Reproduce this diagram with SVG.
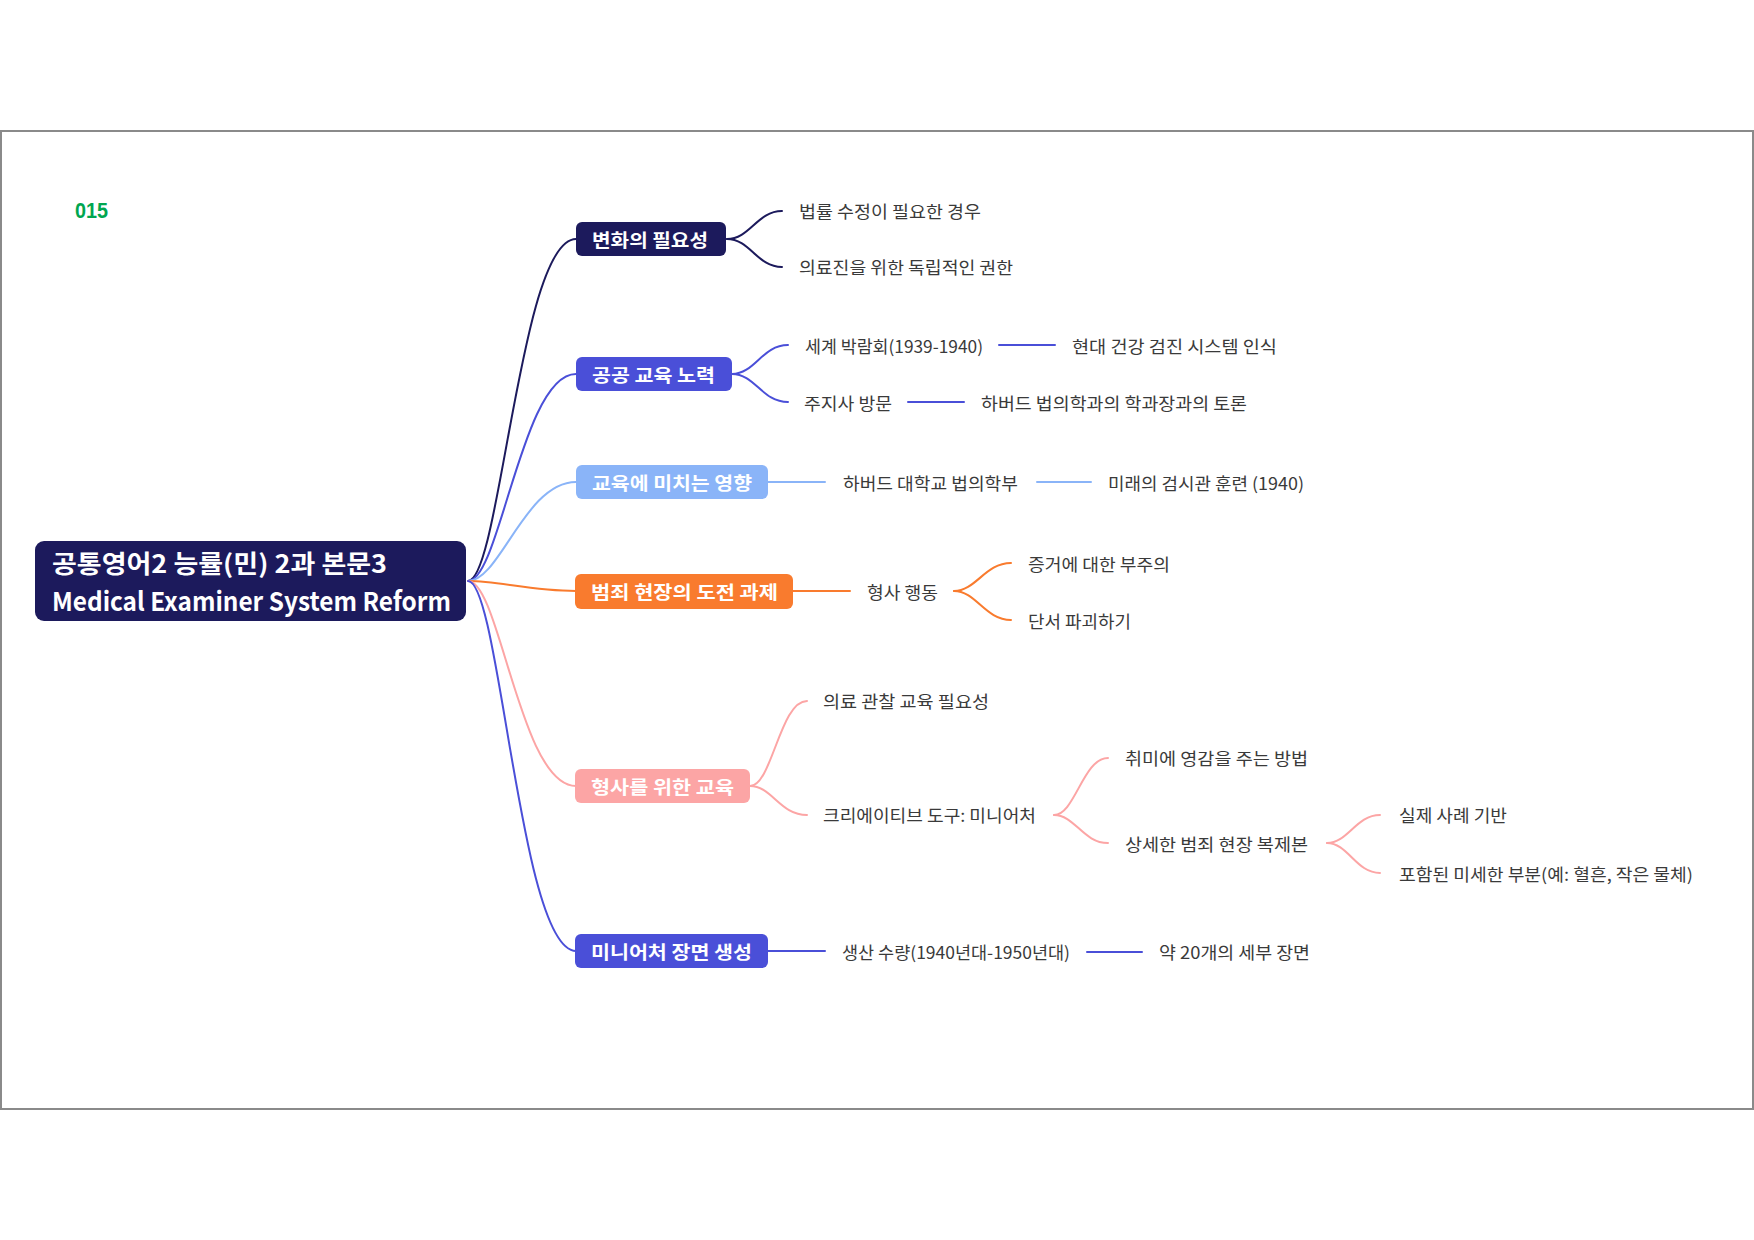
<svg xmlns="http://www.w3.org/2000/svg" width="1754" height="1240" viewBox="0 0 1754 1240">
<style>
.frame{fill:#ffffff;stroke:#8a8a8a;stroke-width:2}
.nt{font-family:"Noto Sans CJK KR","Noto Sans",sans-serif;font-weight:bold;font-size:18px;fill:#ffffff;dominant-baseline:central}
.rt{font-family:"Noto Sans CJK KR","Noto Sans",sans-serif;font-weight:bold;fill:#ffffff}
.lt{font-family:"Noto Sans CJK KR","Noto Sans",sans-serif;font-size:17px;fill:#3a3a3a;dominant-baseline:central}
.c{fill:none;stroke-width:2;stroke-linecap:round}
.navy{stroke:#1c1a5c}.blue{stroke:#4a4fd8}.lblue{stroke:#8ab4f8}.orange{stroke:#f97b2e}.pink{stroke:#fca5a5}
</style>
<rect x="0" y="0" width="1754" height="1240" fill="#ffffff"/>
<rect class="frame" x="1" y="131" width="1752" height="978"/>
<text x="75" y="218" font-family="Liberation Sans, Arial, sans-serif" font-weight="bold" font-size="22" fill="#00a650" textLength="33" lengthAdjust="spacingAndGlyphs">015</text>

<g id="connectors">
<path class="c navy" d="M468,581 C500,581 520,239 576,239"/>
<path class="c blue" d="M468,581 C500,581 522,374 576,374"/>
<path class="c lblue" d="M468,581 C500,581 525,482 576,482"/>
<path class="c orange" d="M468,581 C500,581 530,591 576,591"/>
<path class="c pink" d="M468,581 C500,581 520,786 576,786"/>
<path class="c blue" d="M468,581 C500,581 520,951 576,951"/>

<path class="c navy" d="M727,239 C750,239 757,211 782,211"/>
<path class="c navy" d="M727,239 C750,239 757,267 782,267"/>

<path class="c blue" d="M732,374 C755,374 762,345 788,345"/>
<path class="c blue" d="M732,374 C755,374 762,402 788,402"/>
<path class="c blue" d="M999,345 L1055,345"/>
<path class="c blue" d="M908,402 L964,402"/>

<path class="c lblue" d="M768,482 L825,482"/>
<path class="c lblue" d="M1037,482 L1091,482"/>

<path class="c orange" d="M793,591 L850,591"/>
<path class="c orange" d="M954,591 C976,591 985,563 1011,563"/>
<path class="c orange" d="M954,591 C976,591 985,620 1011,620"/>

<path class="c pink" d="M750,786 C772,786 780,701 807,701"/>
<path class="c pink" d="M750,786 C772,786 780,815 807,815"/>
<path class="c pink" d="M1054,815 C1075,815 1083,758 1108,758"/>
<path class="c pink" d="M1054,815 C1075,815 1083,843 1108,843"/>
<path class="c pink" d="M1327,843 C1348,843 1356,815 1380,815"/>
<path class="c pink" d="M1327,843 C1348,843 1356,873 1380,873"/>

<path class="c blue" d="M768,951 L825,951"/>
<path class="c blue" d="M1087,952 L1142,952"/>
</g>

<g id="root">
<rect x="35" y="541" width="431" height="80" rx="9" fill="#1c1a5c"/>
<text class="rt" x="52" y="573" font-size="25" textLength="335" lengthAdjust="spacingAndGlyphs">공통영어2 능률(민) 2과 본문3</text>
<text class="rt" x="52" y="611" font-size="26" textLength="399" lengthAdjust="spacingAndGlyphs">Medical Examiner System Reform</text>
</g>

<g id="n1">
<rect x="576" y="222" width="150" height="34" rx="6" fill="#1c1a5c"/>
<text class="nt" x="592" y="239" textLength="116" lengthAdjust="spacingAndGlyphs">변화의 필요성</text>
</g>
<g id="n1a"><text class="lt" x="799" y="210" textLength="182" lengthAdjust="spacingAndGlyphs">법률 수정이 필요한 경우</text></g>
<g id="n1b"><text class="lt" x="799" y="266" textLength="214" lengthAdjust="spacingAndGlyphs">의료진을 위한 독립적인 권한</text></g>

<g id="n2">
<rect x="576" y="357" width="156" height="34" rx="6" fill="#4a4fd8"/>
<text class="nt" x="592" y="374" textLength="123" lengthAdjust="spacingAndGlyphs">공공 교육 노력</text>
</g>
<g id="n2a"><text class="lt" x="805" y="345" textLength="178" lengthAdjust="spacingAndGlyphs">세계 박람회(1939-1940)</text></g>
<g id="n2a1"><text class="lt" x="1072" y="345" textLength="205" lengthAdjust="spacingAndGlyphs">현대 건강 검진 시스템 인식</text></g>
<g id="n2b"><text class="lt" x="804" y="402" textLength="88" lengthAdjust="spacingAndGlyphs">주지사 방문</text></g>
<g id="n2b1"><text class="lt" x="981" y="402" textLength="266" lengthAdjust="spacingAndGlyphs">하버드 법의학과의 학과장과의 토론</text></g>

<g id="n3">
<rect x="576" y="465" width="192" height="34" rx="6" fill="#8ab4f8"/>
<text class="nt" x="592" y="482" textLength="160" lengthAdjust="spacingAndGlyphs">교육에 미치는 영향</text>
</g>
<g id="n3a"><text class="lt" x="843" y="482" textLength="175" lengthAdjust="spacingAndGlyphs">하버드 대학교 법의학부</text></g>
<g id="n3a1"><text class="lt" x="1108" y="482" textLength="196" lengthAdjust="spacingAndGlyphs">미래의 검시관 훈련 (1940)</text></g>

<g id="n4">
<rect x="575" y="574" width="218" height="35" rx="6" fill="#f97b2e"/>
<text class="nt" x="591" y="591" textLength="187" lengthAdjust="spacingAndGlyphs">범죄 현장의 도전 과제</text>
</g>
<g id="n4a"><text class="lt" x="867" y="591" textLength="71" lengthAdjust="spacingAndGlyphs">형사 행동</text></g>
<g id="n4a1"><text class="lt" x="1028" y="563" textLength="142" lengthAdjust="spacingAndGlyphs">증거에 대한 부주의</text></g>
<g id="n4a2"><text class="lt" x="1028" y="620" textLength="103" lengthAdjust="spacingAndGlyphs">단서 파괴하기</text></g>

<g id="n5">
<rect x="575" y="769" width="175" height="34" rx="6" fill="#fca5a5"/>
<text class="nt" x="591" y="786" textLength="143" lengthAdjust="spacingAndGlyphs">형사를 위한 교육</text>
</g>
<g id="n5a"><text class="lt" x="823" y="700" textLength="166" lengthAdjust="spacingAndGlyphs">의료 관찰 교육 필요성</text></g>
<g id="n5b"><text class="lt" x="823" y="814" textLength="213" lengthAdjust="spacingAndGlyphs">크리에이티브 도구: 미니어처</text></g>
<g id="n5b1"><text class="lt" x="1125" y="757" textLength="183" lengthAdjust="spacingAndGlyphs">취미에 영감을 주는 방법</text></g>
<g id="n5b2"><text class="lt" x="1125" y="843" textLength="183" lengthAdjust="spacingAndGlyphs">상세한 범죄 현장 복제본</text></g>
<g id="n5b2a"><text class="lt" x="1399" y="814" textLength="108" lengthAdjust="spacingAndGlyphs">실제 사례 기반</text></g>
<g id="n5b2b"><text class="lt" x="1399" y="873" textLength="294" lengthAdjust="spacingAndGlyphs">포함된 미세한 부분(예: 혈흔, 작은 물체)</text></g>

<g id="n6">
<rect x="575" y="934" width="193" height="34" rx="6" fill="#4a4fd8"/>
<text class="nt" x="591" y="951" textLength="161" lengthAdjust="spacingAndGlyphs">미니어처 장면 생성</text>
</g>
<g id="n6a"><text class="lt" x="842" y="951" textLength="228" lengthAdjust="spacingAndGlyphs">생산 수량(1940년대-1950년대)</text></g>
<g id="n6a1"><text class="lt" x="1159" y="951" textLength="151" lengthAdjust="spacingAndGlyphs">약 20개의 세부 장면</text></g>
</svg>
